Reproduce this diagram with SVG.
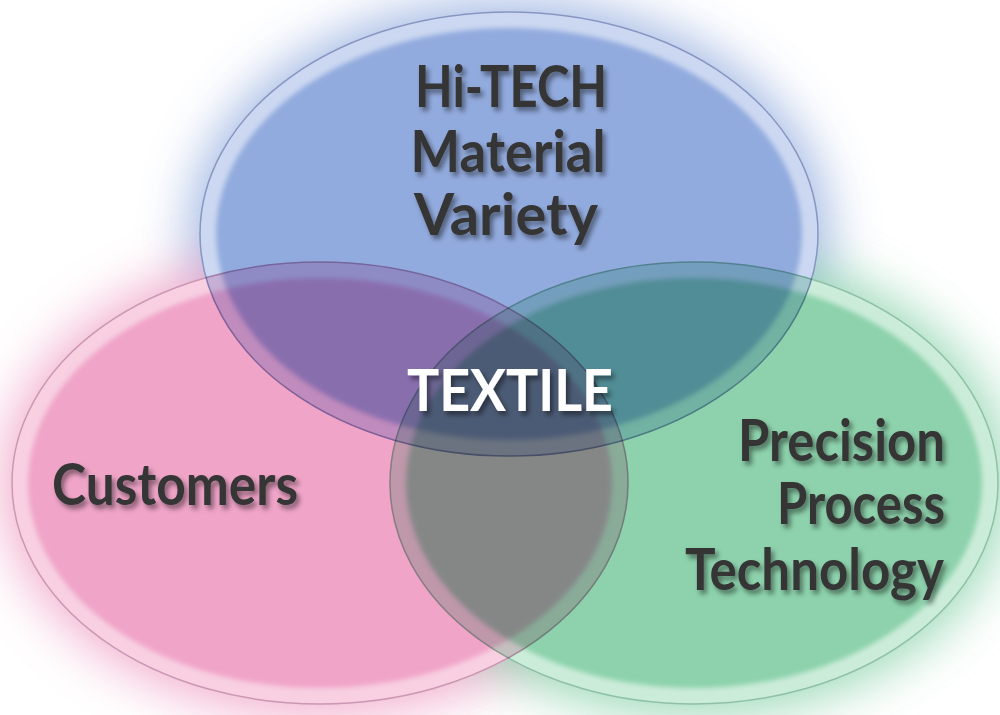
<svg xmlns="http://www.w3.org/2000/svg" width="1000" height="715" viewBox="0 0 1000 715">
<defs>
<style>
.lbl{font-family:Lato,"Open Sans","Liberation Sans",sans-serif;font-weight:700;font-size:57px;fill:#353535;filter:url(#sh)}
.ctr{fill:#ffffff}
.mul{mix-blend-mode:multiply}
.line{stroke-width:1.5}
</style>
<filter id="glow" x="-30%" y="-30%" width="160%" height="160%"><feGaussianBlur stdDeviation="26"/></filter>
<filter id="soft" x="-5%" y="-5%" width="110%" height="110%"><feGaussianBlur stdDeviation="2.5"/></filter>
<filter id="sh" x="-10%" y="-30%" width="130%" height="170%"><feDropShadow dx="3" dy="4" stdDeviation="2.5" flood-color="#000" flood-opacity="0.45"/></filter>
<mask id="outside" maskUnits="userSpaceOnUse" x="0" y="0" width="1000" height="715">
<rect width="1000" height="715" fill="#fff"/>
<ellipse cx="509" cy="234" rx="309" ry="222" fill="#000"/>
<ellipse cx="320" cy="483" rx="308" ry="221" fill="#000"/>
<ellipse cx="694" cy="483" rx="304" ry="221" fill="#000"/>
</mask>
</defs>
<rect width="1000" height="715" fill="#ffffff"/>
<g id="glows" mask="url(#outside)">
<ellipse cx="509" cy="234" rx="318" ry="232" fill="#94ADDF" opacity="0.9" filter="url(#glow)"/>
<ellipse cx="320" cy="483" rx="318" ry="232" fill="#F0A4C8" opacity="0.9" filter="url(#glow)"/>
<ellipse cx="694" cy="483" rx="314" ry="232" fill="#8FD4AE" opacity="0.9" filter="url(#glow)"/>
</g>
<g id="venn" style="isolation:isolate">
<g id="blue" class="mul">
<ellipse cx="509" cy="234" rx="309" ry="222" fill="#CCD8F1" stroke="#8795C2" class="line"/>
<ellipse cx="509" cy="234" rx="293" ry="206" fill="#92ABDE" filter="url(#soft)"/>
</g>
<g id="pink" class="mul">
<ellipse cx="320" cy="483" rx="308" ry="221" fill="#F8D0E2" stroke="#CC97B3" class="line"/>
<ellipse cx="320" cy="483" rx="292" ry="205" fill="#F0A4C8" filter="url(#soft)"/>
</g>
<g id="green" class="mul">
<ellipse cx="694" cy="483" rx="304" ry="221" fill="#CBECD9" stroke="#8EC1A6" class="line"/>
<ellipse cx="694" cy="483" rx="288" ry="205" fill="#8DD2AC" filter="url(#soft)"/>
</g>
</g>
<g id="labels">
<g id="hitech">
<text class="lbl" x="511" y="107" text-anchor="middle" textLength="192" lengthAdjust="spacingAndGlyphs">Hi-TECH</text>
<text class="lbl" x="508" y="172" text-anchor="middle" textLength="195" lengthAdjust="spacingAndGlyphs">Material</text>
<text class="lbl" x="506" y="235" text-anchor="middle" textLength="184" lengthAdjust="spacingAndGlyphs">Variety</text>
</g>
<g id="textile">
<text class="lbl ctr" x="510" y="411" text-anchor="middle" textLength="206" lengthAdjust="spacingAndGlyphs">TEXTILE</text>
</g>
<g id="customers">
<text class="lbl" x="52" y="505" textLength="246" lengthAdjust="spacingAndGlyphs">Customers</text>
</g>
<g id="precision">
<text class="lbl" x="945" y="461" text-anchor="end" textLength="207" lengthAdjust="spacingAndGlyphs">Precision</text>
<text class="lbl" x="945" y="524" text-anchor="end" textLength="168" lengthAdjust="spacingAndGlyphs">Process</text>
<text class="lbl" x="944" y="590" text-anchor="end" textLength="259" lengthAdjust="spacingAndGlyphs">Technology</text>
</g>
</g>
<g id="connectors"/>
</svg>
